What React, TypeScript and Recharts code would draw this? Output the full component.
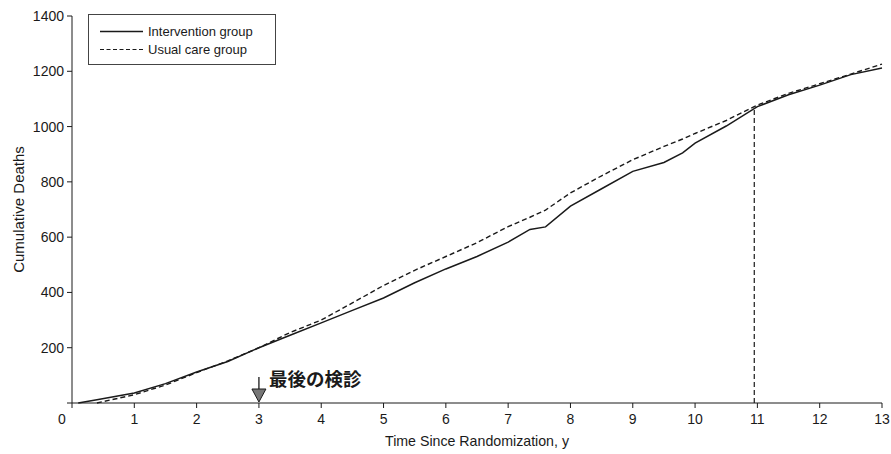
import { LineChart, Line, XAxis, YAxis, Legend, ReferenceLine, ReferenceDot } from "recharts";

const years = [0.1, 0.4, 1, 1.5, 2, 2.5, 3, 3.5, 4, 4.5, 5, 5.5, 6, 6.5, 7, 7.35, 7.6, 8, 8.5, 9, 9.5, 9.8, 10, 10.5, 11, 11.5, 12, 12.5, 13];
const intervention = [0, 12, 36, 70, 112, 150, 200, 245, 290, 335, 380, 435, 485, 530, 582, 628, 637, 712, 775, 838, 870, 905, 940, 1002, 1072, 1115, 1150, 1188, 1212];
const usualCare = [null, 0, 30, 65, 110, 152, 200, 255, 300, 362, 425, 480, 530, 580, 638, 672, 698, 760, 822, 880, 928, 955, 975, 1022, 1078, 1120, 1155, 1190, 1226];

const xTicks = [0, 1, 2, 3, 4, 5, 6, 7, 8, 9, 10, 11, 12, 13];
const yTicks = [0, 200, 400, 600, 800, 1000, 1200, 1400];

const lastExamYear = 3;
const lastExamLabel = "最後の検診";
const crossYear = 10.95;
const crossDeaths = 1072;

const data = years.map((y, i) => ({ year: y, intervention: intervention[i], usual: usualCare[i] }));

const FONT = "'Liberation Sans', Arial, sans-serif";
const INK = "#1a1a1a";

const XTick = ({ x, y, payload }: any) => (
  <text x={payload.value === 0 ? x - 10 : x} y={y} dy={14} textAnchor="middle" fontSize={14} fill={INK} fontFamily={FONT}>
    {payload.value}
  </text>
);

const YTick = ({ x, y, payload }: any) =>
  payload.value === 0 ? null : (
    <text x={x - 1} y={y} dy={5} textAnchor="end" fontSize={14} fill={INK} fontFamily={FONT}>
      {payload.value}
    </text>
  );

const LegendBox = () => (
  <svg width={189} height={52}>
    <rect x={0.5} y={0.5} width={187} height={50} fill="#fff" stroke="#444" />
    <line x1={12} y1={17.5} x2={55} y2={17.5} stroke={INK} strokeWidth={1.4} />
    <text x={60} y={22} fontSize={13} fill={INK} fontFamily={FONT}>Intervention group</text>
    <line x1={12} y1={35.5} x2={55} y2={35.5} stroke={INK} strokeWidth={1.2} strokeDasharray="4 2.5" />
    <text x={60} y={40} fontSize={13} fill={INK} fontFamily={FONT}>Usual care group</text>
  </svg>
);

const LastExamMark = ({ cx, cy }: any) => (
  <g>
    <line x1={cx} y1={cy - 26} x2={cx} y2={cy - 12} stroke={INK} strokeWidth={1.3} />
    <polygon points={`${cx - 7},${cy - 14} ${cx + 7},${cy - 14} ${cx},${cy - 1}`} fill="#777" stroke={INK} strokeWidth={1} />
    <text x={cx + 10} y={cy - 17} fontSize={18.5} fontWeight="bold" fill={INK} fontFamily="'Noto Sans CJK JP', sans-serif">
      {lastExamLabel}
    </text>
  </g>
);

export default function App() {
  return (
    <div style={{ position: "absolute", left: 0, top: 0, background: "#fff" }}>
      <LineChart width={891} height={454} data={data} margin={{ top: 16, right: 9, bottom: 0, left: 0 }}>
        <XAxis
          dataKey="year"
          type="number"
          domain={[0, 13]}
          ticks={xTicks}
          height={51}
          tick={<XTick />}
          tickSize={5}
          tickMargin={2}
          stroke={INK}
          label={{ value: "Time Since Randomization, y", position: "insideBottom", offset: 8, fontSize: 14.2, fill: INK, fontFamily: FONT }}
        />
        <YAxis
          type="number"
          domain={[0, 1400]}
          ticks={yTicks}
          width={72}
          tick={<YTick />}
          tickSize={5}
          tickMargin={2}
          stroke={INK}
          label={{ value: "Cumulative Deaths", angle: -90, position: "insideLeft", offset: 19, fontSize: 15, fill: INK, fontFamily: FONT, style: { textAnchor: "middle" } }}
        />
        <Legend
          layout="vertical"
          align="center"
          verticalAlign="middle"
          wrapperStyle={{ top: 14, left: 88, width: 189, height: 52 }}
          content={<LegendBox />}
        />
        <ReferenceLine
          segment={[{ x: crossYear, y: 0 }, { x: crossYear, y: crossDeaths }]}
          stroke={INK}
          strokeWidth={1.2}
          strokeDasharray="5 3"
        />
        <Line type="linear" dataKey="usual" stroke={INK} strokeWidth={1.4} strokeDasharray="5 3" dot={false} isAnimationActive={false} />
        <Line type="linear" dataKey="intervention" stroke={INK} strokeWidth={1.5} dot={false} isAnimationActive={false} />
        <ReferenceDot x={lastExamYear} y={0} r={0} shape={<LastExamMark />} />
      </LineChart>
    </div>
  );
}
